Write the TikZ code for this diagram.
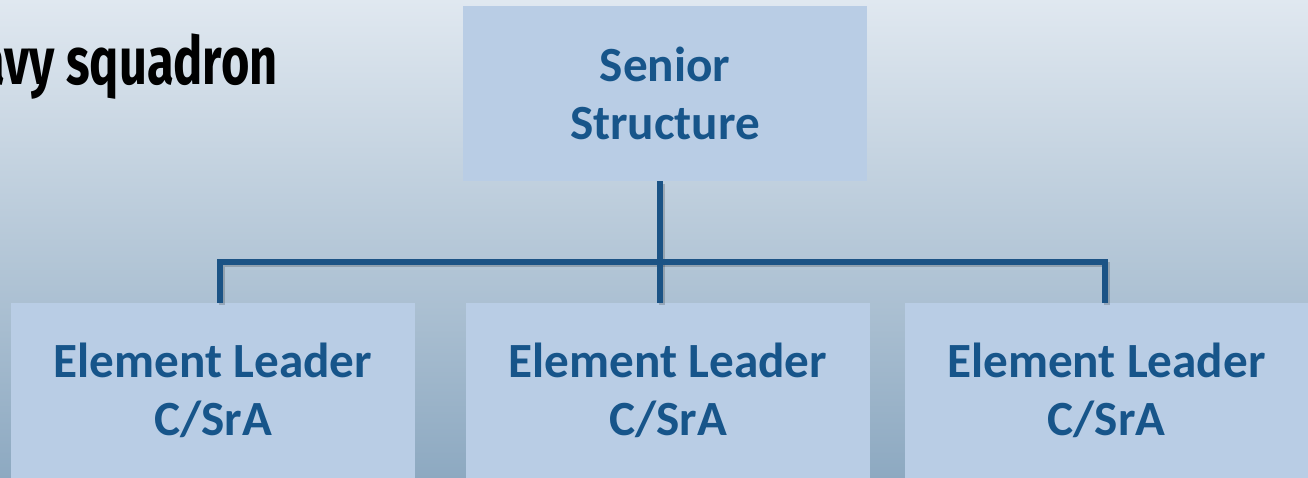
\documentclass[tikz,border=0pt]{standalone}
\usepackage{fontspec}
\setmainfont{Carlito}
\newfontfamily\titlefont[FakeStretch=0.73]{Fira Sans}
\usetikzlibrary{positioning}

\definecolor{bgtop}{HTML}{E0E8F0}
\definecolor{bgmid}{HTML}{BACBDA}
\definecolor{bgbot}{HTML}{8DA9C1}
\definecolor{boxfill}{HTML}{B9CDE5}
\definecolor{boxtext}{HTML}{17558A}
\definecolor{linkblue}{HTML}{1B5385}

\begin{document}
\begin{tikzpicture}[
    box/.style={fill=boxfill, text=boxtext, minimum width=8.08cm, minimum height=3.5cm,
        align=center, font=\fontsize{28}{33}\selectfont\bfseries, inner sep=0pt},
    link/.style={draw=linkblue, line width=2.9pt,
        preaction={draw=black, opacity=0.18, line width=3.4pt,
            transform canvas={shift={(0.04,-0.05)}}}}]
    % background
    \shade[top color=bgtop, middle color=bgmid, bottom color=bgbot] (0,0) rectangle (26.16,-9.56);
    \useasboundingbox (0,0) rectangle (26.16,-9.56);
    \clip (0,0) rectangle (26.16,-9.56);

    \node[anchor=base east, inner sep=0pt, font=\titlefont\fontsize{38}{44}\selectfont\bfseries] (title) at (5.56,-1.70) {Heavy squadron};

    \node[box] (top) at (13.30,-1.87) {Senior\\Structure};
    \node[box] (el1) at (4.26,-7.81) {Element Leader\\C/SrA};
    \node[box] (el2) at (13.36,-7.81) {Element Leader\\C/SrA};
    \node[box, minimum width=8.06cm] (el3) at (22.13,-7.81) {Element Leader\\C/SrA};

    \coordinate (bus) at (13.20,-5.24);
    \coordinate (busl) at (4.40,-5.24);
    \coordinate (busr) at (22.10,-5.24);

    \draw[link] (top.south -| bus) -- (bus);
    \draw[link] (el1.north -| busl) -- (busl) -- (busr) -- (el3.north -| busr);
    \draw[link] (bus) -- (el2.north -| bus);
\end{tikzpicture}
\end{document}
